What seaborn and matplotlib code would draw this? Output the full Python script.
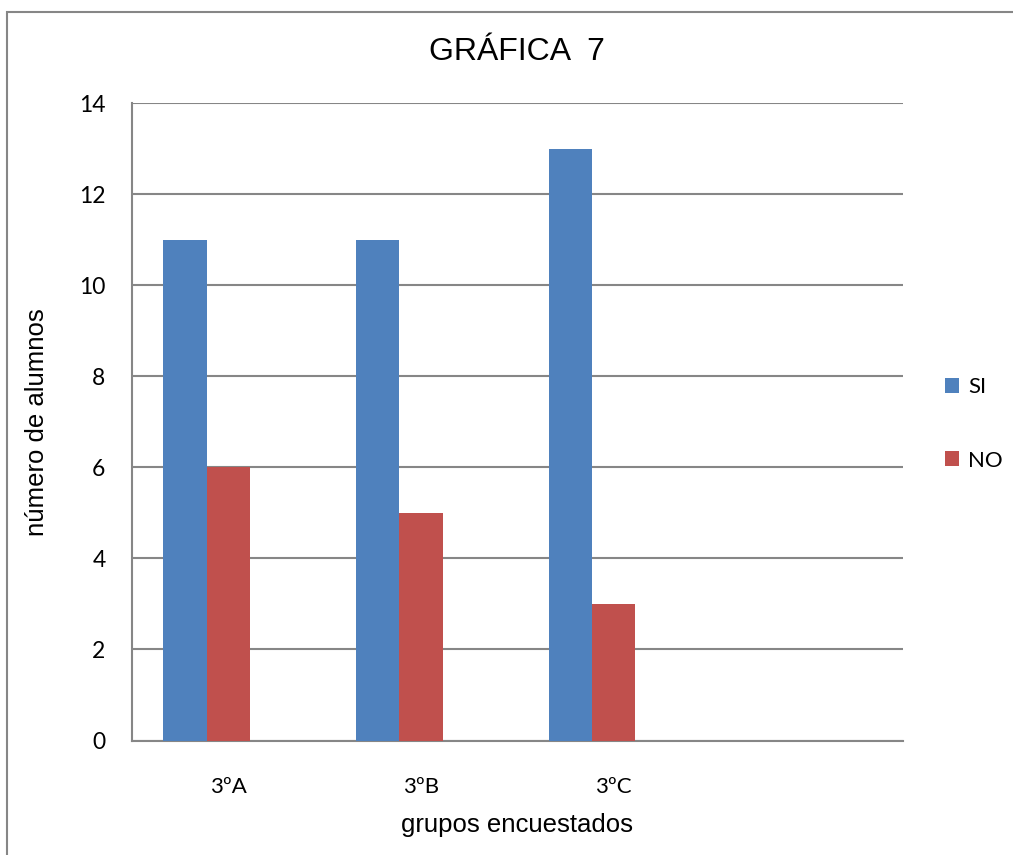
import pandas as pd
import matplotlib
matplotlib.use("Agg")
import matplotlib.pyplot as plt
import seaborn as sns
from matplotlib.patches import Patch, Rectangle

sns.set_style("white")
plt.rcParams["text.color"] = "black"
plt.rcParams["axes.labelcolor"] = "black"
plt.rcParams["xtick.labelcolor"] = "black"
plt.rcParams["ytick.labelcolor"] = "black"

grupos = ["3ºA", "3ºB", "3ºC"]
si_vals = [11, 11, 13]
no_vals = [6, 5, 3]
series = ["SI", "NO"]
colores = {"SI": "#4F81BD", "NO": "#C0504D", "_vacio": "#FFFFFF"}

df = pd.DataFrame({
    "grupo": grupos * 2,
    "respuesta": ["SI"] * len(grupos) + ["NO"] * len(grupos),
    "alumnos": si_vals + no_vals,
})

# Excel layout: a 4th empty category and a 3rd empty series slot
orden = grupos + [""]
hue_orden = series + ["_vacio"]

fig = plt.figure(figsize=(10.13, 8.55), dpi=100)
ax = fig.add_axes([132 / 1013, 114.5 / 855, 770.5 / 1013, 637.5 / 855])

sns.barplot(data=df, x="grupo", y="alumnos", hue="respuesta",
            order=orden, hue_order=hue_orden, palette=colores,
            width=0.675, dodge=True, legend=False, ax=ax,
            saturation=1, linewidth=0, errorbar=None, zorder=3)

ax.set_ylim(0, 14)
ax.set_yticks(range(0, 15, 2))
ax.set_xlim(-0.5, 3.5)
ax.yaxis.grid(True, color="#868686", linewidth=1.5, zorder=0)
ax.set_axisbelow(True)

for s in ["top", "right"]:
    ax.spines[s].set_visible(False)
for s in ["left", "bottom"]:
    ax.spines[s].set_color("#868686")
    ax.spines[s].set_linewidth(1.5)

ax.tick_params(axis="y", length=9, width=1.5, color="#868686", pad=10,
               labelsize=16.5)
ax.tick_params(axis="x", length=0, pad=26, labelsize=16)
for lab in ax.get_xticklabels() + ax.get_yticklabels():
    lab.set_family(["Lato", "DejaVu Sans"])

ax.set_xlabel("grupos encuestados", fontsize=18.5, family="Liberation Sans",
              labelpad=12)
ax.set_ylabel("número de alumnos", fontsize=18.5, family="Liberation Sans",
              labelpad=22)
fig.text(517 / 1013, 1 - 52 / 855, "GRÁFICA  7", ha="center", va="center",
         fontsize=23, family="Liberation Sans")

handles = [Patch(facecolor=colores[s], edgecolor="none", label=s) for s in series]
leg = fig.legend(handles=handles, loc="center left",
                 bbox_to_anchor=(925 / 1013, 1 - 424 / 855),
                 frameon=False, handlelength=0.65, handleheight=0.65,
                 handletextpad=0.4, labelspacing=2.4,
                 prop={"family": "Lato", "size": 16})

fig.patches.append(Rectangle((7 / 1013, -0.05), 1.2, 1 - 12 / 855 + 0.05,
                             transform=fig.transFigure, fill=False,
                             edgecolor="#868686", linewidth=1.5))

fig.savefig("out.png", dpi=100)
